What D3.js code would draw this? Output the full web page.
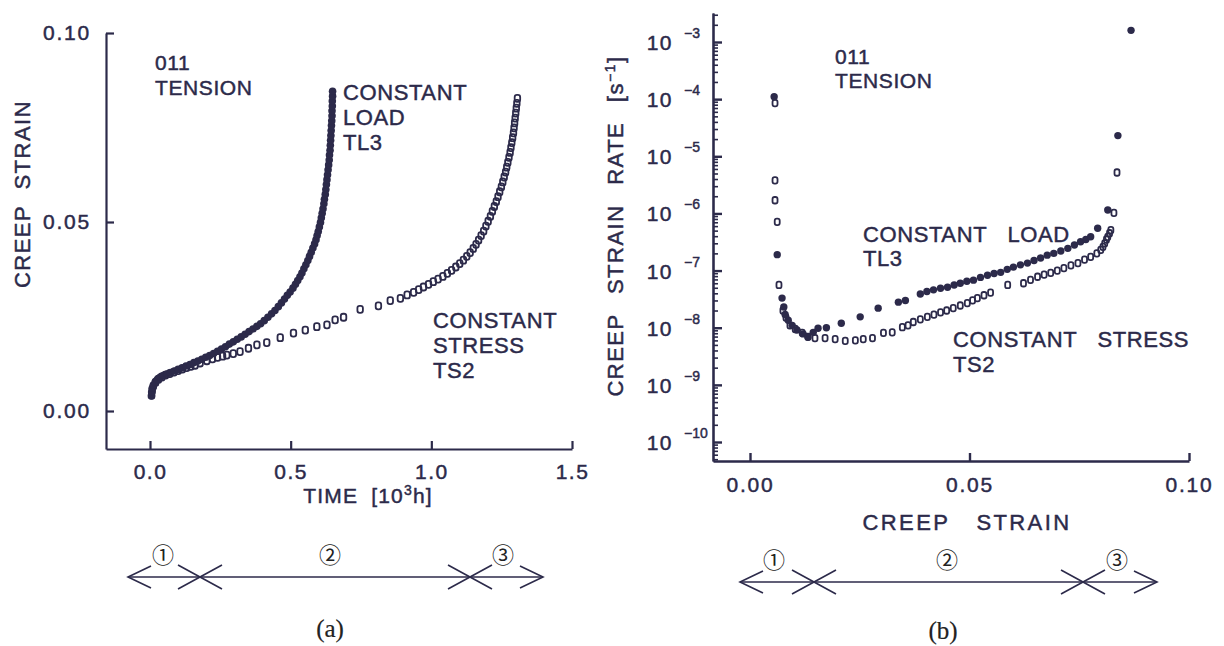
<!DOCTYPE html>
<html><head><meta charset="utf-8">
<script src="https://cdn.jsdelivr.net/npm/d3@7"></script>
<style>
html,body{margin:0;padding:0;background:#fff;}
svg{display:block;}
text{font-family:"Liberation Sans",Arial,sans-serif;fill:#2c2a4a;stroke:#2c2a4a;stroke-width:0.45px;}
</style></head><body>
<svg id="fig" width="1224" height="646"></svg>
<script>
// ---- Panel (a): creep strain vs time [10^3 h] ----
const timeTL3 = [0.005,0.006,0.008,0.012,0.018,0.026,0.036,0.048,0.060,0.073,0.087,0.100,0.114,0.128,0.142,0.156,0.170,0.184,0.198,0.212,0.226,0.240,0.254,0.268,0.282,0.296,0.310,0.324,0.338,0.352,0.366,0.380,0.393,0.406,0.419,0.432,0.444,0.456,0.467,0.478,0.488,0.498,0.508,0.517,0.525,0.533,0.540,0.547,0.554,0.561,0.567,0.573,0.579,0.585,0.590,0.594,0.598,0.602,0.606,0.609,0.612,0.615,0.618,0.620,0.623,0.625,0.627,0.629,0.631,0.633,0.635,0.637,0.638,0.640,0.641,0.642,0.643,0.644,0.645,0.646,0.647,0.647,0.648,0.648,0.649,0.649];
const strainTL3 = [0.0040,0.0050,0.0060,0.0068,0.0076,0.0083,0.0089,0.0094,0.0098,0.0102,0.0106,0.0110,0.0114,0.0119,0.0123,0.0128,0.0132,0.0137,0.0142,0.0147,0.0152,0.0158,0.0164,0.0170,0.0177,0.0183,0.0190,0.0196,0.0203,0.0210,0.0217,0.0224,0.0231,0.0239,0.0248,0.0257,0.0266,0.0276,0.0286,0.0296,0.0306,0.0315,0.0325,0.0335,0.0345,0.0355,0.0365,0.0376,0.0387,0.0398,0.0409,0.0420,0.0431,0.0442,0.0453,0.0464,0.0475,0.0487,0.0499,0.0511,0.0523,0.0535,0.0548,0.0560,0.0573,0.0586,0.0599,0.0612,0.0625,0.0638,0.0651,0.0664,0.0677,0.0690,0.0703,0.0716,0.0729,0.0742,0.0755,0.0768,0.0781,0.0794,0.0807,0.0820,0.0833,0.0846];
const timeTS2 = [0.006,0.008,0.012,0.020,0.030,0.042,0.055,0.070,0.085,0.100,0.115,0.130,0.145,0.160,0.178,0.202,0.222,0.240,0.258,0.273,0.296,0.320,0.350,0.380,0.415,0.463,0.510,0.552,0.593,0.629,0.658,0.688,0.747,0.812,0.854,0.890,0.914,0.937,0.955,0.972,0.990,1.007,1.024,1.041,1.057,1.072,1.087,1.101,1.114,1.126,1.138,1.149,1.159,1.168,1.177,1.186,1.194,1.202,1.210,1.217,1.224,1.231,1.237,1.243,1.249,1.254,1.259,1.264,1.268,1.272,1.276,1.280,1.283,1.286,1.289,1.292,1.294,1.296,1.298,1.300,1.302,1.304,1.306];
const strainTS2 = [0.0042,0.0055,0.0066,0.0076,0.0084,0.0090,0.0095,0.0099,0.0103,0.0107,0.0111,0.0115,0.0118,0.0121,0.0127,0.0133,0.0138,0.0142,0.0145,0.0148,0.0152,0.0157,0.0166,0.0175,0.0181,0.0194,0.0206,0.0214,0.0223,0.0228,0.0241,0.0248,0.0269,0.0278,0.0292,0.0298,0.0307,0.0314,0.0321,0.0328,0.0335,0.0342,0.0349,0.0356,0.0364,0.0372,0.0381,0.0390,0.0399,0.0409,0.0419,0.0430,0.0441,0.0452,0.0464,0.0476,0.0489,0.0502,0.0515,0.0528,0.0541,0.0554,0.0567,0.0580,0.0593,0.0606,0.0619,0.0632,0.0645,0.0658,0.0671,0.0684,0.0697,0.0710,0.0723,0.0736,0.0749,0.0762,0.0775,0.0788,0.0801,0.0814,0.0827];
const timeTicks = [0, 0.5, 1.0, 1.5];
const strainTicksA = [0, 0.05, 0.10];

// ---- Panel (b): creep strain rate [1/s] vs creep strain ----
const rateStrainTL3 = [0.0055,0.0062,0.0073,0.0077,0.0080,0.0087,0.0096,0.0107,0.0121,0.0132,0.0144,0.0155,0.0174,0.0208,0.0251,0.0292,0.0338,0.0354,0.0388,0.0403,0.0418,0.0434,0.0450,0.0465,0.0479,0.0494,0.0509,0.0525,0.0541,0.0556,0.0571,0.0586,0.0600,0.0616,0.0632,0.0647,0.0662,0.0677,0.0692,0.0708,0.0724,0.0739,0.0753,0.0765,0.0776,0.0792,0.0815,0.0838,0.0868];
const rateTL3 = [1.1e-4,1.9e-7,3.3e-8,2.3e-8,1.7e-8,1.35e-8,1.1e-8,9.1e-9,7.8e-9,6.9e-9,8.3e-9,9.8e-9,1.0e-8,1.2e-8,1.55e-8,2.2e-8,2.8e-8,3.0e-8,3.9e-8,4.3e-8,4.6e-8,4.9e-8,5.1e-8,5.6e-8,6.0e-8,6.5e-8,6.8e-8,7.6e-8,8.3e-8,8.9e-8,9.3e-8,1.05e-7,1.15e-7,1.26e-7,1.35e-7,1.5e-7,1.66e-7,1.86e-7,2.0e-7,2.2e-7,2.45e-7,2.8e-7,3.2e-7,3.5e-7,3.9e-7,5.5e-7,1.15e-6,2.3e-5,1.6e-3];
const rateStrainTS2 = [0.0057,0.0057,0.0057,0.0062,0.0066,0.0075,0.0082,0.0091,0.0103,0.0119,0.0132,0.0148,0.0171,0.0194,0.0217,0.0240,0.0258,0.0279,0.0304,0.0324,0.0347,0.0360,0.0372,0.0388,0.0404,0.0419,0.0434,0.0448,0.0463,0.0479,0.0495,0.0507,0.0518,0.0533,0.0548,0.0587,0.0623,0.0639,0.0655,0.0670,0.0685,0.0700,0.0715,0.0731,0.0747,0.0762,0.0776,0.0790,0.0799,0.0804,0.0808,0.0812,0.0815,0.0819,0.0822,0.0829,0.0836];
const rateTS2 = [8.5e-5,3.8e-6,1.7e-6,7.1e-7,5.6e-8,2.0e-8,1.5e-8,1.1e-8,9.5e-9,8.1e-9,6.9e-9,6.6e-9,6.6e-9,6.3e-9,5.9e-9,6.0e-9,6.3e-9,6.6e-9,8.1e-9,8.3e-9,1.02e-8,1.1e-8,1.26e-8,1.4e-8,1.55e-8,1.7e-8,1.86e-8,2.0e-8,2.2e-8,2.45e-8,2.7e-8,3.0e-8,3.3e-8,3.7e-8,4.1e-8,5.6e-8,6.0e-8,6.9e-8,7.8e-8,8.5e-8,9.1e-8,1.0e-7,1.1e-7,1.23e-7,1.35e-7,1.55e-7,1.74e-7,2.0e-7,2.3e-7,2.6e-7,3.0e-7,3.5e-7,3.9e-7,4.5e-7,5.1e-7,1.02e-6,5.2e-6];
const strainTicksB = [0, 0.05, 0.10];
const rateExponents = [-3, -4, -5, -6, -7, -8, -9, -10];

// stage labels under each panel
const stageLabels = ["\u2460", "\u2461", "\u2462"];

const INK = "#2c2a4a";
const svg = d3.select("#fig");
svg.append("rect").attr("width", 1224).attr("height", 646).attr("fill", "#fff");

function styleAxis(g, w) {
  g.selectAll("path.domain").attr("stroke", INK).attr("stroke-width", w);
  g.selectAll(".tick line").attr("stroke", INK).attr("stroke-width", w);
  g.selectAll("text").attr("fill", INK);
}

function openMark(sel, pts, x, y, w, h) {
  sel.selectAll(null).data(pts).join("rect")
    .attr("x", d => x(d[0]) - w / 2).attr("y", d => y(d[1]) - h / 2)
    .attr("width", w).attr("height", h).attr("rx", w / 2.4)
    .attr("fill", "none").attr("stroke", INK).attr("stroke-width", 1.8);
}
function filledMark(sel, pts, x, y, r) {
  sel.selectAll(null).data(pts).join("circle")
    .attr("cx", d => x(d[0])).attr("cy", d => y(d[1])).attr("r", r)
    .attr("fill", INK);
}
function multiline(sel, x, y0, lines, step, size, extra) {
  const t = sel.append("text").attr("x", x).attr("y", y0)
    .attr("font-size", size).attr("letter-spacing", 0.6);
  if (extra) extra(t);
  lines.forEach((s, i) => t.append("tspan").attr("x", x).attr("y", y0 + i * step).text(s));
  return t;
}

// ================= Panel (a) =================
const axA = { left: 106, bottom: 449 };
const xA = d3.scaleLinear().domain([0, 1.5]).range([150, 572]);
const yA = d3.scaleLinear().domain([0, 0.10]).range([411, 33]);
const xAaxis = xA.copy().domain([xA.invert(axA.left), 1.5]).range([axA.left, 572]);
const yAaxis = yA.copy().domain([yA.invert(axA.bottom), 0.10]).range([axA.bottom, 33]);

const gA = svg.append("g");
const gxA = gA.append("g").attr("transform", `translate(0,${axA.bottom})`)
  .call(d3.axisBottom(xAaxis).tickValues(timeTicks).tickFormat(d3.format(".1f"))
    .tickSizeInner(-8).tickSizeOuter(0).tickPadding(15));
gxA.selectAll("text").attr("font-size", 21).attr("letter-spacing", 1.5)
  .attr("font-family", "Liberation Sans, Arial, sans-serif");
styleAxis(gxA, 2.2);

const gyA = gA.append("g").attr("transform", `translate(${axA.left},0)`)
  .call(d3.axisLeft(yAaxis).tickValues(strainTicksA).tickFormat(d3.format(".2f"))
    .tickSizeInner(-8).tickSizeOuter(0).tickPadding(15));
gyA.selectAll("text").attr("font-size", 21).attr("letter-spacing", 1.8)
  .attr("font-family", "Liberation Sans, Arial, sans-serif");
styleAxis(gyA, 2.2);

gA.append("text").attr("transform", "translate(30,194) rotate(-90)")
  .attr("text-anchor", "middle").attr("font-size", 22).attr("letter-spacing", 1.5)
  .attr("word-spacing", 8).text("CREEP STRAIN");
const tA = gA.append("text").attr("x", 368).attr("y", 503).attr("text-anchor", "middle")
  .attr("font-size", 21).attr("letter-spacing", 1.2).attr("word-spacing", 6);
tA.append("tspan").text("TIME [10");
tA.append("tspan").attr("dy", -8).attr("font-size", 14).text("3");
tA.append("tspan").attr("dy", 8).text("h]");

openMark(gA, d3.zip(timeTS2, strainTS2), xA, yA, 5.5, 7);
filledMark(gA, d3.zip(timeTL3, strainTL3), xA, yA, 3.8);

multiline(gA, 155, 70, ["011", "TENSION"], 25, 21);
multiline(gA, 343, 100, ["CONSTANT", "LOAD", "TL3"], 25, 22);
multiline(gA, 433, 328, ["CONSTANT", "STRESS", "TS2"], 25, 22);

// ================= Panel (b) =================
const axB = { left: 713, bottom: 461, top: 13 };
const xB = d3.scaleLinear().domain([0, 0.10]).range([750, 1189]);
const yB = d3.scaleLog().domain([1e-10, 1e-3]).range([442, 42]);
const xBaxis = xB.copy().domain([xB.invert(axB.left), 0.10]).range([axB.left, 1189]);
const yBaxis = yB.copy().domain([yB.invert(axB.bottom), yB.invert(axB.top)]).range([axB.bottom, axB.top]);

const gB = svg.append("g");
const gxB = gB.append("g").attr("transform", `translate(0,${axB.bottom})`)
  .call(d3.axisBottom(xBaxis).tickValues(strainTicksB).tickFormat(d3.format(".2f"))
    .tickSizeInner(-8).tickSizeOuter(0).tickPadding(16));
gxB.selectAll("text").attr("font-size", 21).attr("letter-spacing", 1.8)
  .attr("font-family", "Liberation Sans, Arial, sans-serif");
styleAxis(gxB, 2.4);

// minor decade ticks 2..9 x 10^k
const [lo, hi] = yBaxis.domain();
const minorVals = [];
for (let k = -11; k <= -2; k++) for (let m = 2; m <= 9; m++) {
  const v = m * Math.pow(10, k);
  if (v >= lo && v <= hi) minorVals.push(v);
}
const gyBminor = gB.append("g").attr("transform", `translate(${axB.left},0)`)
  .call(d3.axisLeft(yBaxis).tickValues(minorVals).tickFormat("").tickSizeInner(-5).tickSizeOuter(0));
styleAxis(gyBminor, 1.6);
const gyB = gB.append("g").attr("transform", `translate(${axB.left},0)`)
  .call(d3.axisLeft(yBaxis).tickValues(rateExponents.map(e => Math.pow(10, e))).tickFormat("")
    .tickSizeInner(-9).tickSizeOuter(0));
styleAxis(gyB, 2.4);

// decade labels: base and raised exponent
const decG = gB.append("g");
decG.selectAll("text.base").data(rateExponents).join("text").attr("class", "base")
  .attr("x", 673).attr("y", e => yB(Math.pow(10, e)) + 8)
  .attr("text-anchor", "end").attr("font-size", 21).attr("letter-spacing", 1.5).text("10");
decG.selectAll("text.exp").data(rateExponents).join("text").attr("class", "exp")
  .attr("x", 684).attr("y", e => yB(Math.pow(10, e)) - 4)
  .attr("font-size", 14).text(e => "\u2212" + Math.abs(e));

const tB = gB.append("text").attr("transform", "translate(623,226) rotate(-90)")
  .attr("text-anchor", "middle").attr("font-size", 22).attr("letter-spacing", 1.5).attr("word-spacing", 12);
tB.append("tspan").text("CREEP STRAIN RATE [s");
tB.append("tspan").attr("dy", -8).attr("font-size", 14).text("\u22121");
tB.append("tspan").attr("dy", 8).text("]");
gB.append("text").attr("x", 967).attr("y", 530).attr("text-anchor", "middle")
  .attr("font-size", 22).attr("letter-spacing", 2.4).attr("word-spacing", 18).text("CREEP STRAIN");

openMark(gB, d3.zip(rateStrainTS2, rateTS2), xB, yB, 5, 6.5);
filledMark(gB, d3.zip(rateStrainTL3, rateTL3), xB, yB, 3.7);

multiline(gB, 835, 64, ["011", "TENSION"], 24, 21);
multiline(gB, 863, 242, ["CONSTANT LOAD", "TL3"], 24, 22, t => t.attr("word-spacing", 14));
multiline(gB, 953, 347, ["CONSTANT STRESS", "TS2"], 25, 22, t => t.attr("word-spacing", 14));

// ================= Stage diagrams =================
function stages(cfg) {
  const g = svg.append("g").attr("stroke", INK).attr("stroke-width", 1.6).attr("fill", "none");
  g.append("line").attr("x1", cfg.x0).attr("x2", cfg.x1).attr("y1", cfg.y).attr("y2", cfg.y);
  // outward arrow heads
  g.append("path").attr("d", `M${cfg.x0 + 23},${cfg.y - 11} L${cfg.x0},${cfg.y} L${cfg.x0 + 23},${cfg.y + 11}`);
  g.append("path").attr("d", `M${cfg.x1 - 23},${cfg.y - 11} L${cfg.x1},${cfg.y} L${cfg.x1 - 23},${cfg.y + 11}`);
  // stage boundaries
  cfg.cross.forEach(cx => {
    g.append("path").attr("d", `M${cx - 22},${cfg.y - 12} L${cx + 22},${cfg.y + 12} M${cx - 22},${cfg.y + 12} L${cx + 22},${cfg.y - 12}`);
  });
  svg.append("g").selectAll("text").data(stageLabels).join("text")
    .attr("x", (d, i) => cfg.labels[i]).attr("y", cfg.y - 14)
    .attr("text-anchor", "middle").attr("font-size", 22)
    .style("stroke", "none").style("fill", "#222")
    .style("font-family", "'Noto Sans CJK JP', 'Noto Sans CJK SC', sans-serif")
    .text(d => d);
  svg.append("text").attr("x", cfg.cap).attr("y", cfg.capY).attr("text-anchor", "middle")
    .style("font-family", "'Liberation Serif', 'Times New Roman', serif").attr("font-size", 25)
    .style("stroke", "#222").style("stroke-width", "0.2px").style("fill", "#222").text(cfg.caption);
}
stages({ x0: 128, x1: 543, y: 577, cross: [200, 470], labels: [163, 330, 503], cap: 330, capY: 637, caption: "(a)" });
stages({ x0: 740, x1: 1157, y: 582, cross: [814, 1083], labels: [774, 947, 1117], cap: 943, capY: 639, caption: "(b)" });
</script>
</body></html>
